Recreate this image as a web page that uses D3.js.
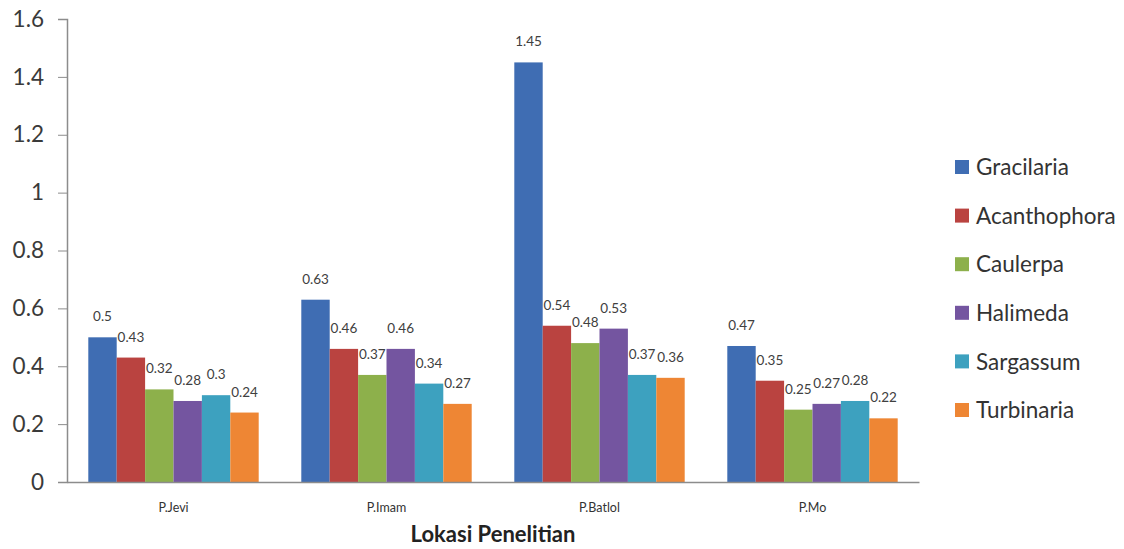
<!DOCTYPE html>
<html>
<head>
<meta charset="utf-8">
<script src="https://cdn.jsdelivr.net/npm/d3@7"></script>
<style>
  html, body { margin: 0; padding: 0; background: #fff; }
  svg { display: block; }
</style>
</head>
<body>
<svg id="chart" width="1124" height="549"></svg>
<script>
const categories = ["P.Jevi", "P.Imam", "P.Batlol", "P.Mo"];
const seriesNames = ["Gracilaria", "Acanthophora", "Caulerpa", "Halimeda", "Sargassum", "Turbinaria"];
const gracilaria   = [0.5, 0.63, 1.45, 0.47];
const acanthophora = [0.43, 0.46, 0.54, 0.35];
const caulerpa     = [0.32, 0.37, 0.48, 0.25];
const halimeda     = [0.28, 0.46, 0.53, 0.27];
const sargassum    = [0.3, 0.34, 0.37, 0.28];
const turbinaria   = [0.24, 0.27, 0.36, 0.22];
const yTicks = [0, 0.2, 0.4, 0.6, 0.8, 1, 1.2, 1.4, 1.6];
const xTitle = "Lokasi Penelitian";

const seriesValues = [gracilaria, acanthophora, caulerpa, halimeda, sargassum, turbinaria];
const colors = ["#3F6DB3", "#BA4340", "#8DB04B", "#7455A0", "#3DA1BF", "#EE8634"];

const svg = d3.select("#chart");
const plotLeft = 67, plotRight = 919, plotTop = 19, plotBottom = 482;
const font = "Lato, 'Open Sans', sans-serif";

const y = d3.scaleLinear().domain([0, 1.6]).range([plotBottom, plotTop]);
const x0 = d3.scaleBand().domain(categories).range([plotLeft, plotRight]).paddingInner(0.2).paddingOuter(0.1);
const x1 = d3.scaleBand().domain(seriesNames).range([0, x0.bandwidth()]).padding(0);

// y axis
const yAxis = svg.append("g").attr("transform", `translate(${plotLeft},0)`)
  .call(d3.axisLeft(y).tickValues(yTicks).tickSize(9).tickPadding(14)
    .tickFormat(d => String(+d.toFixed(1))));
yAxis.select(".domain").attr("stroke", "#8c8c8c").attr("stroke-width", 1.5);
yAxis.selectAll(".tick line").attr("stroke", "#8c8c8c");
yAxis.selectAll(".tick text").attr("font-family", font).attr("font-size", 22.5).attr("fill", "#3a3a3a");

// bars
const groups = svg.append("g").selectAll("g").data(categories).join("g")
  .attr("transform", d => `translate(${x0(d)},0)`);

groups.each(function(cat, ci) {
  const g = d3.select(this);
  const rows = seriesNames.map((s, si) => ({ s, si, v: seriesValues[si][ci] }));
  g.selectAll("rect").data(rows).join("rect")
    .attr("x", d => x1(d.s))
    .attr("y", d => y(d.v))
    .attr("width", x1.bandwidth())
    .attr("height", d => y(0) - y(d.v))
    .attr("fill", d => colors[d.si]);
  g.selectAll("text").data(rows).join("text")
    .attr("x", d => x1(d.s) + x1.bandwidth() / 2)
    .attr("y", d => y(d.v) - 16)
    .attr("text-anchor", "middle")
    .attr("font-family", font)
    .attr("font-size", 13.5)
    .attr("fill", "#404040")
    .text(d => String(d.v));
});

// x axis
const xAxis = svg.append("g").attr("transform", `translate(0,${plotBottom})`)
  .call(d3.axisBottom(x0).tickSize(0).tickPadding(21).tickSizeOuter(0));
xAxis.select(".domain").attr("stroke", "#8c8c8c").attr("stroke-width", 1.5);
xAxis.selectAll(".tick text").attr("font-family", font).attr("font-size", 12.5).attr("fill", "#333");

// x title
svg.append("text")
  .attr("x", (plotLeft + plotRight) / 2)
  .attr("y", 542)
  .attr("text-anchor", "middle")
  .attr("font-family", font)
  .attr("font-weight", "bold")
  .attr("font-size", 22)
  .attr("fill", "#222")
  .text(xTitle);

// legend
const legend = svg.append("g");
const legY = d3.scalePoint().domain(seriesNames).range([167, 410]);
seriesNames.forEach((s, i) => {
  legend.append("rect")
    .attr("x", 955).attr("y", legY(s) - 7)
    .attr("width", 14).attr("height", 14)
    .attr("fill", colors[i]);
  legend.append("text")
    .attr("x", 976).attr("y", legY(s))
    .attr("dy", "0.36em")
    .attr("font-family", font)
    .attr("font-size", 22.5)
    .attr("fill", "#333")
    .text(s);
});
</script>
</body>
</html>
